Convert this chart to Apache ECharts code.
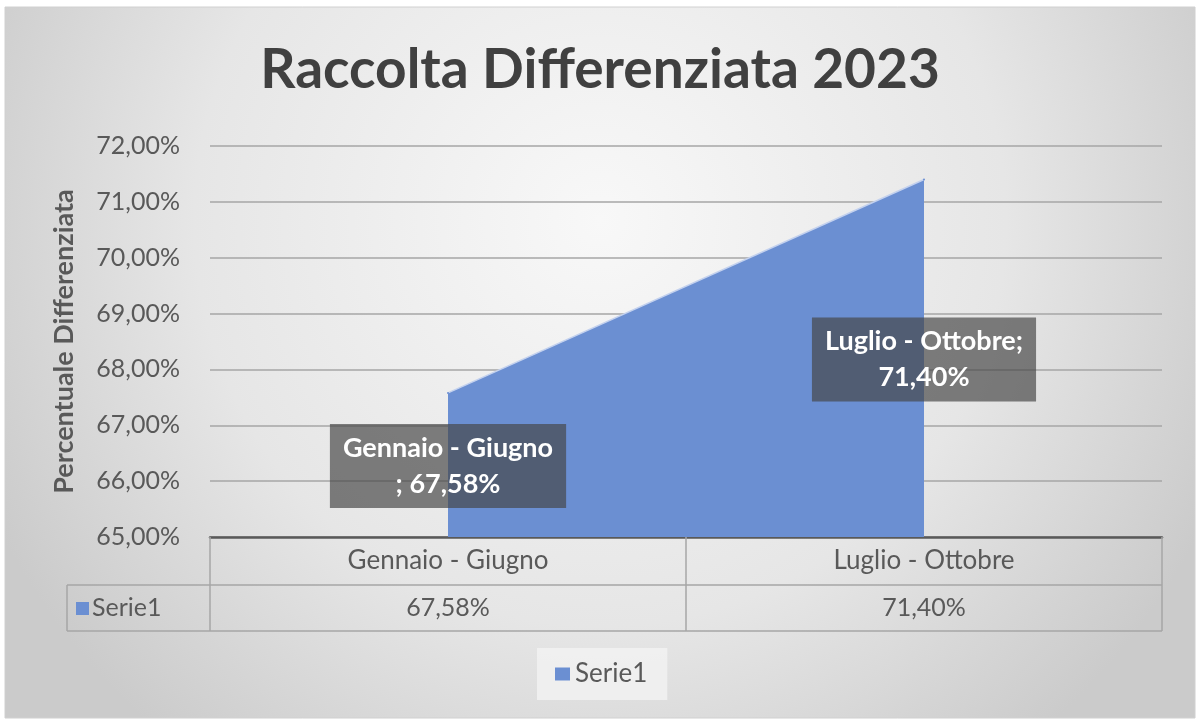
<!DOCTYPE html>
<html>
<head>
<meta charset="utf-8">
<script src="https://cdn.jsdelivr.net/npm/echarts@6/dist/echarts.min.js"></script>
<style>
  html, body { margin: 0; padding: 0; background: #ffffff; }
  #main { width: 1200px; height: 722px; }
</style>
</head>
<body>
<div id="main"></div>
<script>
// categorie (periodi)
var categories = ['Gennaio - Giugno', 'Luglio - Ottobre'];
// percentuale raccolta differenziata
var values = [67.58, 71.40];
// asse y
var yMin = 65, yMax = 72, yStep = 1;
var seriesName = 'Serie1';

var FONT = 'Lato, "Open Sans", sans-serif';
var AREA = '#6b8fd2';
var GRID_L = 210, GRID_R = 1162, GRID_T = 146, GRID_B = 537;

function pct(v) {
    return v.toFixed(2).replace('.', ',') + '%';
}

var myChart = echarts.init(document.getElementById('main'));

// etichette dati, spostate sotto il punto come in Excel
var labelOffsets = [[0, 73], [0, 180]];
var labelTexts = [
    function (p) { return p.name + '\n; ' + pct(p.value); },
    function (p) { return p.name + ';\n' + pct(p.value); }
];
var seriesData = values.map(function (v, i) {
    return {
        value: v,
        label: { offset: labelOffsets[i], formatter: labelTexts[i] }
    };
});

var option = {
    backgroundColor: '#ffffff',
    animation: false,
    title: {
        text: 'Raccolta Differenziata 2023',
        left: 'center',
        top: 38,
        textStyle: { fontFamily: FONT, fontSize: 55, fontWeight: 'bold', color: '#404040' }
    },
    legend: {
        data: [seriesName],
        left: 537,
        top: 648,
        padding: [13, 20, 13, 18],
        backgroundColor: 'rgba(242,242,242,0.8)',
        icon: 'rect',
        itemWidth: 15,
        itemHeight: 13,
        itemGap: 6,
        itemStyle: { color: AREA, opacity: 1 },
        textStyle: { fontFamily: FONT, fontSize: 26, color: '#595959' }
    },
    grid: {
        left: GRID_L,
        right: 1200 - GRID_R,
        top: GRID_T,
        bottom: 722 - GRID_B,
        containLabel: false
    },
    xAxis: [
        {
            type: 'category',
            data: categories,
            boundaryGap: true,
            axisLine: { show: true, lineStyle: { color: '#595959', width: 2.5 } },
            axisTick: { show: true, interval: 0, length: 94, lineStyle: { color: '#a6a6a6', width: 1.5 } },
            axisLabel: { margin: 11, fontFamily: FONT, fontSize: 26, color: '#595959' }
        },
        {
            type: 'category',
            data: categories,
            position: 'bottom',
            offset: 46,
            boundaryGap: true,
            axisLine: { show: false },
            axisTick: { show: false },
            axisLabel: {
                margin: 12,
                fontFamily: FONT, fontSize: 25, color: '#595959',
                formatter: function (v, i) { return pct(values[i]); }
            }
        }
    ],
    yAxis: {
        type: 'value',
        min: yMin,
        max: yMax,
        interval: yStep,
        name: 'Percentuale Differenziata',
        nameLocation: 'middle',
        nameGap: 132,
        nameTextStyle: { fontFamily: FONT, fontSize: 27, fontWeight: 'bold', color: '#595959' },
        axisLine: { show: false },
        axisTick: { show: false },
        axisLabel: {
            margin: 30,
            fontFamily: FONT, fontSize: 25, color: '#595959',
            formatter: function (v) { return pct(v); }
        },
        splitLine: { lineStyle: { color: '#a6a6a6', width: 1.5 } }
    },
    graphic: [
        // sfondo del grafico con sfumatura
        {
            type: 'rect', z: -10, silent: true,
            shape: { x: 5, y: 7, width: 1190, height: 711 },
            style: {
                fill: new echarts.graphic.RadialGradient(0.5, 0.3, 0.95, [
                    { offset: 0, color: '#f8f8f8' },
                    { offset: 0.6, color: '#e6e6e6' },
                    { offset: 1, color: '#cbcbcb' }
                ]),
                stroke: '#d0d0d0', lineWidth: 1
            }
        },
        // righe della tabella dati
        {
            type: 'line', silent: true,
            shape: { x1: 67, y1: 585, x2: GRID_R, y2: 585 },
            style: { stroke: '#a6a6a6', lineWidth: 1.5 }
        },
        {
            type: 'line', silent: true,
            shape: { x1: 67, y1: 631, x2: GRID_R, y2: 631 },
            style: { stroke: '#a6a6a6', lineWidth: 1.5 }
        },
        {
            type: 'line', silent: true,
            shape: { x1: 67, y1: 585, x2: 67, y2: 631 },
            style: { stroke: '#a6a6a6', lineWidth: 1.5 }
        },
        // chiave legenda nella tabella
        {
            type: 'rect', silent: true,
            shape: { x: 76, y: 602, width: 13, height: 13 },
            style: { fill: AREA }
        },
        {
            type: 'text', silent: true,
            x: 92, y: 608,
            style: {
                text: seriesName, fontFamily: FONT, fontSize: 25, fill: '#595959',
                verticalAlign: 'middle'
            }
        }
    ],
    series: [
        {
            name: seriesName,
            type: 'line',
            data: seriesData,
            symbol: 'circle',
            symbolSize: 2,
            showSymbol: true,
            lineStyle: { color: '#c3d1ee', width: 1.5 },
            itemStyle: { color: AREA },
            areaStyle: { color: AREA, opacity: 1, origin: 'start' },
            label: {
                show: true,
                position: 'inside',
                fontFamily: FONT,
                fontSize: 27,
                fontWeight: 'bold',
                color: '#ffffff',
                lineHeight: 36,
                backgroundColor: 'rgba(70,70,70,0.68)',
                padding: [6, 13, 6, 13]
            }
        }
    ]
};

myChart.setOption(option);
</script>
</body>
</html>
